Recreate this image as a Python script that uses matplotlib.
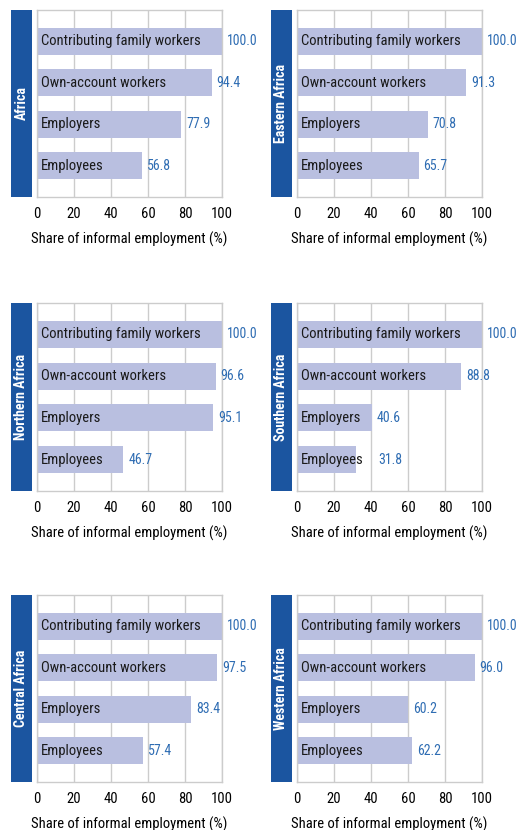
import matplotlib
matplotlib.use("Agg")
import matplotlib.pyplot as plt
from matplotlib.patches import Rectangle

plt.rcParams["font.family"] = ["Roboto Condensed", "DejaVu Sans"]

# ── data ──────────────────────────────────────────────
REGIONS = ["Africa", "Eastern Africa", "Northern Africa",
           "Southern Africa", "Central Africa", "Western Africa"]
CATEGORIES = ["Contributing family workers", "Own-account workers",
              "Employers", "Employees"]
FAMILY = [100.0, 100.0, 100.0, 100.0, 100.0, 100.0]
OWN_ACCOUNT = [94.4, 91.3, 96.6, 88.8, 97.5, 96.0]
EMPLOYERS = [77.9, 70.8, 95.1, 40.6, 83.4, 60.2]
EMPLOYEES = [56.8, 65.7, 46.7, 31.8, 57.4, 62.2]
XTICKS = [0, 20, 40, 60, 80, 100]
XLABEL = "Share of informal employment (%)"

BAR_COLOR = "#b9bfe0"
STRIP_COLOR = "#1b55a0"
VALUE_COLOR = "#2f6db3"
GRID_COLOR = "#cccccc"
FS = 10.5

W, H = 519, 830
fig = plt.figure(figsize=(W / 100, H / 100), dpi=100)
fig.patch.set_facecolor("white")
renderer = fig.canvas.get_renderer()

# pixel layout: axes x-extent, strip x-extent per column; y-extent per row
cols = [(37, 222, 11, 32), (297, 482, 271, 292)]
rows = [(10, 197), (303, 491), (595, 782)]


def fx(px):
    return px / W


def fy(py):
    return 1 - py / H


for i, region in enumerate(REGIONS):
    ax0, ax1, s0, s1 = cols[i % 2]
    y0, y1 = rows[i // 2]

    # blue side strip with region name
    fig.patches.append(Rectangle((fx(s0), fy(y1)), fx(s1) - fx(s0), fy(y0) - fy(y1),
                                 transform=fig.transFigure, facecolor=STRIP_COLOR,
                                 edgecolor="none", zorder=1))
    fig.text((fx(s0) + fx(s1)) / 2, (fy(y0) + fy(y1)) / 2, region,
             rotation=90, ha="center", va="center", color="white",
             fontsize=10, fontweight="bold")

    ax = fig.add_axes([fx(ax0), fy(y1), fx(ax1) - fx(ax0), fy(y0) - fy(y1)])
    ax.set_xlim(0, 100)
    ax.set_ylim(3.75, -0.75)
    vals = [FAMILY[i], OWN_ACCOUNT[i], EMPLOYERS[i], EMPLOYEES[i]]
    ypos = list(range(len(CATEGORIES)))
    ax.barh(ypos, vals, height=0.65, color=BAR_COLOR, zorder=2)
    for y, v, cat in zip(ypos, vals, CATEGORIES):
        t = ax.text(2, y, cat, ha="left", va="center", fontsize=FS,
                    color="#1a1a1a", zorder=3)
        # value label sits right of the bar, or right of the name if it sticks out
        bar_end = ax.transData.transform((v, y))[0]
        text_end = t.get_window_extent(renderer).x1
        gap = max(0.0, text_end + 10 - bar_end)
        ax.annotate(f"{v:.1f}", (v, y), xytext=(3.5 + gap * 0.72, 0),
                    textcoords="offset points", ha="left", va="center",
                    fontsize=10, color=VALUE_COLOR, annotation_clip=False)

    ax.set_xticks(XTICKS)
    ax.set_yticks([])
    ax.tick_params(axis="x", length=0, labelsize=FS, pad=7)
    ax.grid(axis="x", color=GRID_COLOR, linewidth=1, zorder=0)
    ax.set_axisbelow(True)
    for sp in ax.spines.values():
        sp.set_color(GRID_COLOR)
        sp.set_linewidth(1)
    ax.set_xlabel(XLABEL, fontsize=FS, labelpad=8)

fig.savefig("out.png", dpi=100)
